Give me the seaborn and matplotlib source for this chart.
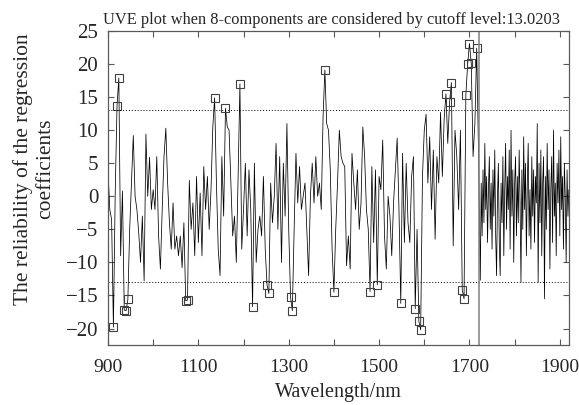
import matplotlib
matplotlib.use("Agg")
import matplotlib.pyplot as plt
import numpy as np
import seaborn as sns

# UVE reliability of regression coefficients (8 PLS components)
cutoff = 13.0203
split_wl = 1720.5   # real variables left, random variables right

# real variables, 900-1720 nm every 4 nm
real_start, real_step = 900, 4
real_vals = [
    3.9, -2, -3.5, -19.8, 0.5, 13.7, 17.9, -9, 0.8, -17.2,
    -17.3, -15.6, -5, 2, 9.2, 0, -2, -5.5, -10, -3,
    -12.8, 9.4, 0, 5.9, -2, 1, -2, 6, -6, -11,
    -2, 6, 10.3, 2, -4, -8, -1, -8, -6, -9,
    -6, -10.8, -4, -15.8, -15.7, 2.4, -5, -1, -9, 3,
    -7, 0.5, -9, 4.5, -2, 3, -5, 1, 10.5, 14.9,
    2, -8, -12, 6, -3, 13.3, 10.5, 10, 2, -6,
    -3, -10, 3, 17.0, -8, -2, 5, -6, 4, -2,
    -16.7, 5, -10, -5, -3, -6, 3, -8, -13.4, -14.7,
    2, -4, 0, 8, -5, 6, -10, 5, -3, 11,
    -5, -15.2, -17.3, -5, 6.5, -1, 4.5, -2, 0, 2,
    -5, -12, 0, 5, -1, 6, 0, 2, -2, 12,
    19.1, 11, 10, 4, -8, -14.5, -5, 2, 10, 6,
    5, 4.5, -10.5, -6, -11, 6.5, 2, -2, 4, -5,
    -1, 10.5, 6, -2, -5, -14.4, 4.5, -7, 4, -13.4,
    3, 1, 8.5, -6, -11, 0, -3, -9, -1, 4,
    8.8, -2, -16.2, 6.5, -7, 5, -4, -7, 3, 6,
    -17.0, -5, -18.9, -20.2, 3, 10, 12.4, 2, 9, -2,
    7, -6.5, 6, 2, 12.7, 3, 11.7, 15.5, 8, 14.2,
    17.2, -7.5, 10, 6, -2, 10, -14.1, -15.5, 15.3, 20.0,
    23.1, 20.1, 6, 11, 22.4, 7,
]

# random (noise) variables, 1722-1920 every 2 nm
rand_start, rand_step = 1722, 2
rand_vals = [
    -3, -12.7, 2, -6, 4, -4, 8, -2, 3, -7,
    1, 6, -5, 2, -8, 4, -3, 7, -6, -12,
    0, 5, -7, -12, 2, -4, 6, -9, 1, 8,
    -5, 3, -2, 7, -8, 10, -3, 4, -10, 2,
    6, -6, 3, -4, 7, -1, -13, 4, -5, 9,
    -2, 5, -9, 2, 8, -6, 1, -8, 6, -3,
    4, -7, 3, -1, 11, -13, 5, -4, 7, -9,
    2, 6, -15.5, 3, -5, 8, -2, 4, -11, 1,
    6, -7, 10, -3, 2, -9, 5, -1, 7, -6,
    9, -2, 3, -8, 5, 0, -10, 4, -3, 1,
]

xticks = list(range(900, 2000, 100))
xticklabels = [str(t) if (t - 900) % 200 == 0 else "" for t in xticks]
yticks = list(range(-20, 30, 5))

wl = np.concatenate([real_start + real_step * np.arange(len(real_vals)),
                     rand_start + rand_step * np.arange(len(rand_vals))])
rel = np.array(real_vals + rand_vals, dtype=float)

sns.set_theme(style="ticks")
plt.rcParams["font.family"] = ["Liberation Serif", "DejaVu Serif"]

fig = plt.figure(figsize=(5.79, 4.05), dpi=100)
ax = fig.add_axes([0.1865, 0.148, 0.796, 0.7755])

sns.lineplot(x=wl, y=rel, color="black", lw=0.55, sort=False,
             estimator=None, ax=ax)

sel = (wl < split_wl) & (np.abs(rel) > cutoff)
ax.plot(wl[sel], rel[sel], ls="none", marker="s", ms=6.2,
        mfc="none", mec="0.25", mew=0.8)

ax.axhline(cutoff, color="black", ls=(0, (1, 2)), lw=0.7)
ax.axhline(-cutoff, color="black", ls=(0, (1, 2)), lw=0.7)
ax.axvline(split_wl, color="0.5", lw=1.1)

ax.set_xlim(900, 1920)
ax.set_ylim(-22.5, 25)
ax.set_xticks(xticks)
ax.set_xticklabels(xticklabels)
ax.set_yticks(yticks)
ax.set_yticklabels([f"{t}".replace("-", "\u2212") for t in yticks])

ax.tick_params(direction="in", length=4, width=0.8, color="0.35",
               top=True, right=True)
ax.tick_params(axis="x", pad=10, labelsize=14)
ax.tick_params(axis="y", pad=7, labelsize=15)
for s in ax.spines.values():
    s.set_color("0.35")
    s.set_linewidth(0.9)

ax.set_title("UVE plot when 8-components are considered by cutoff level:13.0203",
             fontsize=11.8, pad=5, x=0.485)
ax.set_xlabel("Wavelength/nm", fontsize=14.5, labelpad=5)
ax.set_ylabel("The reliability of the regression\ncoefficients", fontsize=15.5)
ax.yaxis.set_label_coords(-0.115, 0.56)

fig.savefig("out.png", dpi=100)
